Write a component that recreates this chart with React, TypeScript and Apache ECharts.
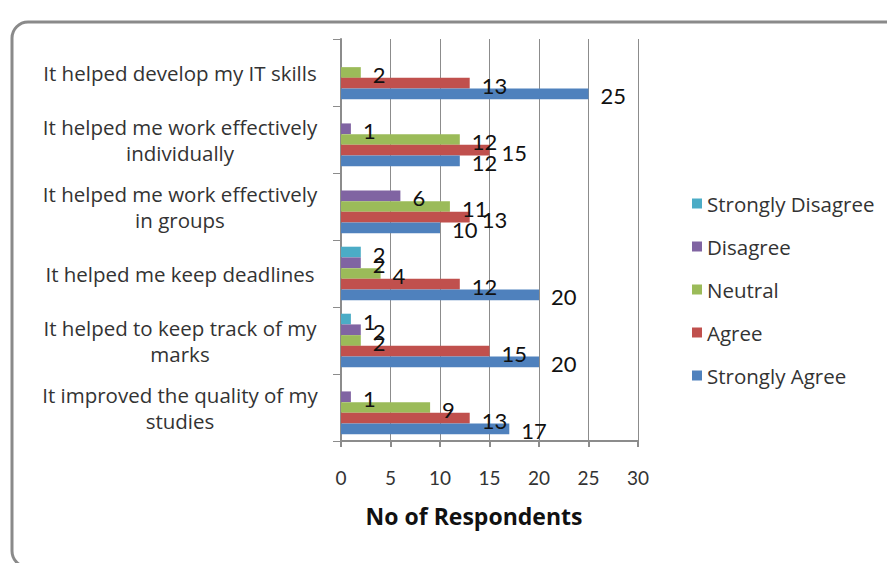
import React, { useEffect, useRef } from "react";
import * as echarts from "echarts";

const categories = [
  "It improved the quality of my\nstudies",
  "It helped to keep track of my\nmarks",
  "It helped me keep deadlines",
  "It helped me work effectively\nin groups",
  "It helped me work effectively\nindividually",
  "It helped develop my IT skills",
];

// listed top-of-band first
const seriesNames = ["Strongly Disagree", "Disagree", "Neutral", "Agree", "Strongly Agree"];
const stronglyDisagree = [0, 1, 2, 0, 0, 0];
const disagree = [1, 2, 2, 6, 1, 0];
const neutral = [9, 2, 4, 11, 12, 2];
const agree = [13, 15, 12, 13, 15, 13];
const stronglyAgree = [17, 20, 20, 10, 12, 25];
const seriesColors = ["#4BACC6", "#8064A2", "#9BBB59", "#C0504D", "#4F81BD"];
const legendOrder = ["Strongly Disagree", "Disagree", "Neutral", "Agree", "Strongly Agree"];
const xTicks = { min: 0, max: 30, interval: 5 };

const FONT = "Lato, 'Open Sans', sans-serif";
const WIDE = "'Open Sans', Lato, sans-serif";

export default function App() {
  const ref = useRef<HTMLDivElement>(null);
  useEffect(() => {
    if (!ref.current) return;
    const chart = echarts.init(ref.current, undefined, { renderer: "svg" });
    const values = [stronglyDisagree, disagree, neutral, agree, stronglyAgree];
    const option: any = {
      animation: false,
      backgroundColor: "#ffffff",
      textStyle: { fontFamily: FONT },
      graphic: [
        {
          type: "rect",
          shape: { x: 12, y: 22, width: 890, height: 545, r: 16 },
          style: { fill: "none", stroke: "#8a8a8a", lineWidth: 3 },
          silent: true,
        },
        {
          type: "text",
          x: 474,
          y: 516,
          style: {
            text: "No of Respondents",
            fontFamily: WIDE,
            fontSize: 23,
            fontWeight: "bold",
            fill: "#111111",
            align: "center",
            verticalAlign: "middle",
          },
        },
      ],
      grid: { left: 341, right: 249, top: 39, bottom: 122, containLabel: false },
      legend: {
        data: legendOrder,
        orient: "vertical",
        left: 692,
        top: 193,
        padding: 0,
        itemWidth: 10,
        itemHeight: 10,
        itemGap: 22,
        icon: "rect",
        textStyle: { fontFamily: WIDE, fontSize: 20.5, color: "#333333" },
      },
      xAxis: {
        type: "value",
        min: xTicks.min,
        max: xTicks.max,
        interval: xTicks.interval,
        axisLine: { show: true, lineStyle: { color: "#8c8c8c", width: 2 } },
        axisTick: { show: true, length: 6, lineStyle: { color: "#8c8c8c", width: 2 } },
        splitLine: { show: true, lineStyle: { color: "#8c8c8c", width: 1 } },
        axisLabel: { color: "#333333", fontSize: 19, margin: 27, fontFamily: FONT },
      },
      yAxis: {
        type: "category",
        data: categories,
        axisLine: { show: true, lineStyle: { color: "#8c8c8c", width: 2 } },
        axisTick: { show: true, length: 8, lineStyle: { color: "#8c8c8c", width: 1 } },
        axisLabel: {
          color: "#333333",
          fontSize: 20.5,
          fontFamily: WIDE,
          align: "center",
          margin: 161,
          lineHeight: 26,
        },
      },
      series: seriesNames.map((name, i) => ({
        name,
        type: "bar",
        data: values[i],
        barGap: "0%",
        barCategoryGap: "20%",
        itemStyle: { color: seriesColors[i] },
        label: {
          show: true,
          position: "right",
          distance: 12,
          offset: [0, 2],
          color: "#111111",
          fontSize: 22,
          fontFamily: FONT,
          formatter: (p: any) => (p.value === 0 ? "" : String(p.value)),
        },
      })),
    };
    chart.setOption(option);
    return () => chart.dispose();
  }, []);
  return (
    <div
      ref={ref}
      style={{ position: "fixed", left: 0, top: 0, width: 887, height: 563 }}
    />
  );
}
